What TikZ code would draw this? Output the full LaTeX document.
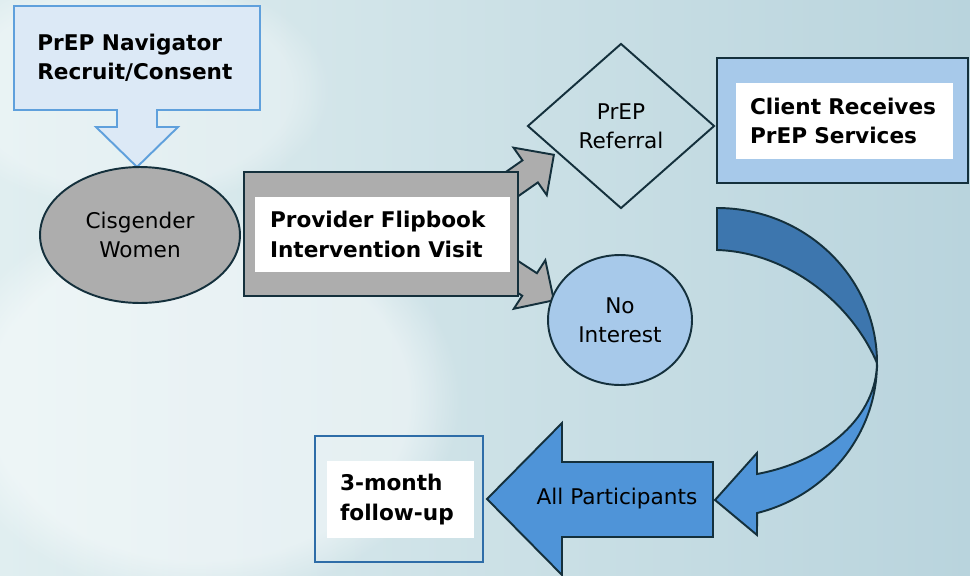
\documentclass[tikz,border=0pt]{standalone}
\usepackage{fontspec}
\setmainfont{DejaVu Sans}
\usetikzlibrary{shapes.geometric,shapes.arrows,fadings}

\definecolor{edgedark}{HTML}{14303C}
\definecolor{greyfill}{HTML}{ADADAD}
\definecolor{paleblue}{HTML}{A7C9EA}
\definecolor{calloutfill}{HTML}{DCE9F6}
\definecolor{calloutedge}{HTML}{5FA0DC}
\definecolor{arrowblue}{HTML}{4F94D8}
\definecolor{arrowdark}{HTML}{3D76AE}
\definecolor{boxedge}{HTML}{2E6DA8}
\definecolor{bgleft}{HTML}{E0EEF0}
\definecolor{bgright}{HTML}{B9D4DD}

\tikzset{
  boldtxt/.style={font=\bfseries\fontsize{12.3}{16.6}\selectfont, align=left},
  plaintxt/.style={font=\fontsize{12.3}{16.6}\selectfont, align=center},
  outline/.style={draw=edgedark, line width=1.1pt},
  whitebox/.style={fill=white, inner ysep=0pt, boldtxt},
  greyarrow/.style={single arrow, fill=greyfill, outline, inner sep=0.25cm,
    single arrow head extend=0.31cm, minimum height=1.5cm, anchor=tip}
}

\begin{document}
\begin{tikzpicture}[x=0.02cm, y=-0.02cm]
  \useasboundingbox (0,0) rectangle (970,575);
  % background
  \begin{scope}
    \clip (0,0) rectangle (970,575);
    \shade[left color=bgleft, right color=bgright] (0,0) rectangle (970,575);
    \fill[white, opacity=0.45, path fading=circle with fuzzy edge 20 percent] (200,400) ellipse (260 and 200);
    \fill[white, opacity=0.3, path fading=circle with fuzzy edge 20 percent] (130,90) ellipse (200 and 120);
  \end{scope}

  % small grey arrows out of the visit box
  \node[greyarrow, rotate=35] (upArrow) at (555,154) {};
  \node[greyarrow, rotate=-33] (downArrow) at (555,301) {};

  % recruit callout
  \draw[fill=calloutfill, draw=calloutedge, line width=1.1pt]
    (14,6) -- (260,6) -- (260,110) -- (157,110) -- (157,127) -- (178,127)
    -- (137,167) -- (96,127) -- (117,127) -- (117,110) -- (14,110) -- cycle;
  \node[boldtxt, anchor=west, inner sep=0pt] (recruit) at (37,57.5)
    {PrEP Navigator\\Recruit/Consent};

  \node[ellipse, fill=greyfill, outline, minimum width=4cm, minimum height=2.72cm,
    inner sep=0pt, plaintxt] (women) at (140,235) {Cisgender\\Women};

  % intervention visit
  \node[fill=greyfill, outline, minimum width=5.48cm, minimum height=2.48cm] (visit) at (381,234) {};
  \node[whitebox, text width=4.5cm, inner xsep=0.3cm, minimum height=1.5cm] (visitText) at (382.5,234.5)
    {Provider Flipbook\\Intervention Visit};

  \node[diamond, outline, minimum width=3.74cm, minimum height=3.3cm, inner sep=0pt,
    plaintxt] (referral) at (621,126) {PrEP\\Referral};

  \node[ellipse, fill=paleblue, outline, minimum width=2.88cm, minimum height=2.6cm,
    inner sep=0pt, plaintxt] (noInterest) at (620,320) {No\\Interest};

  % client receives services
  \node[fill=paleblue, outline, minimum width=5.02cm, minimum height=2.5cm] (client) at (842.5,120.5) {};
  \node[whitebox, text width=3.78cm, inner xsep=0.28cm, minimum height=1.52cm] (clientText) at (844.5,121)
    {Client Receives\\PrEP Services};

  % curved return arrow
  \draw[fill=arrowdark, outline] (717,208) arc[start angle=-90, end angle=0, x radius=160, y radius=155]
    .. controls (850,300) and (785,252) .. (717,250) -- cycle;
  \draw[fill=arrowblue, outline] (877,363) arc[start angle=0, end angle=75.5, x radius=160, y radius=155]
    -- (757,535) -- (715,500) -- (757,453) -- (757,474)
    arc[start angle=75.5, end angle=0, x radius=160, y radius=115] -- cycle;

  % all participants arrow
  \draw[fill=arrowblue, outline] (487,499) -- (562,423) -- (562,462) -- (713,462)
    -- (713,537) -- (562,537) -- (562,575) -- cycle;
  \node[plaintxt, inner sep=0pt] (allPart) at (617,499) {All Participants};

  % follow-up
  \node[draw=boxedge, line width=1.5pt, minimum width=3.36cm, minimum height=2.52cm] (followup) at (399,499) {};
  \node[whitebox, text width=2.42cm, inner xsep=0.26cm, minimum height=1.54cm] (followText) at (400.5,499.5)
    {3-month\\follow-up};
\end{tikzpicture}
\end{document}
